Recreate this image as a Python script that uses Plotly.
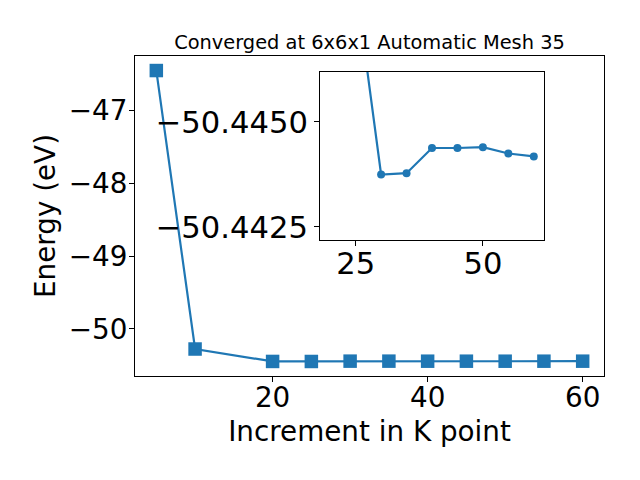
import plotly.graph_objects as go

kpoints = [5, 10, 20, 25, 30, 35, 40, 45, 50, 55, 60]
energy = [-46.447, -50.277, -50.4478, -50.4483, -50.44375, -50.44378,
          -50.44438, -50.44438, -50.44440, -50.44425, -50.44418]

# the inset shows the converged part of the same series (from 20 onward)
inset_start = 2

main_xticks = [20, 40, 60]
main_yticks = [-47, -48, -49, -50]
inset_xticks = [25, 50]
inset_yticks = [-50.4450, -50.4425]

title_text = "Converged at 6x6x1 Automatic Mesh 35"
xlabel = "Increment in K point"
ylabel = "Energy (eV)"

blue = "#1f77b4"
FONT = "DejaVu Sans"
TICK = 27.8
INSET_TICK = 30.6

fig = go.Figure()
fig.add_trace(go.Scatter(x=kpoints, y=energy, mode="lines+markers",
                         line=dict(color=blue, width=2.2),
                         marker=dict(symbol="square", size=13.5, color=blue),
                         xaxis="x", yaxis="y", showlegend=False, cliponaxis=False))
fig.add_trace(go.Scatter(x=kpoints[inset_start:], y=energy[inset_start:], mode="lines+markers",
                         line=dict(color=blue, width=2.2),
                         marker=dict(symbol="circle", size=8, color=blue),
                         xaxis="x2", yaxis="y2", showlegend=False, cliponaxis=True))

axcommon = dict(showgrid=False, zeroline=False, showline=True, mirror=True,
                linecolor="black", linewidth=1, ticks="outside", ticklen=5,
                tickwidth=1, tickcolor="black", automargin=False)

fig.update_layout(
    width=640, height=480,
    margin=dict(l=135, r=36, t=56, b=104, autoexpand=False),
    paper_bgcolor="white", plot_bgcolor="white",
    font=dict(family=FONT, color="black"),
    title=dict(text=title_text, font=dict(size=19.4, family=FONT, color="black"),
               x=(135 + 604) / 2 / 640, xanchor="center", y=1 - 42 / 480, yanchor="middle",
               automargin=False),
    xaxis=dict(range=[2.25, 62.75], tickvals=main_xticks, tickfont=dict(size=TICK),
               ticklabelstandoff=-8,
               title=dict(text=xlabel, font=dict(size=27.8), standoff=8), **axcommon),
    yaxis=dict(range=[-50.648, -46.247], tickvals=main_yticks, tickfont=dict(size=TICK),
               ticklabelstandoff=-4,
               title=dict(text=ylabel, font=dict(size=27.8), standoff=5), **axcommon),
    xaxis2=dict(domain=[0.3945, 0.872], anchor="y2", range=[18, 62],
                tickvals=inset_xticks, tickfont=dict(size=INSET_TICK),
                ticklabelstandoff=-9, **axcommon),
    yaxis2=dict(domain=[0.425, 0.95], anchor="x2", range=[-50.44219, -50.44619],
                tickvals=inset_yticks, tickformat=".4f", tickfont=dict(size=INSET_TICK), **axcommon),
)

fig.write_html("out.html", config={"displayModeBar": False},
               post_script="document.body.style.margin='0';")
